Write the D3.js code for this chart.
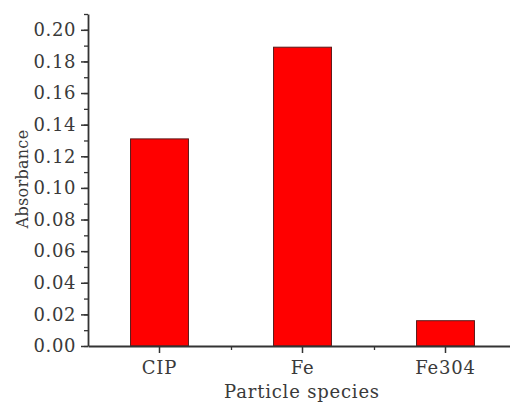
<!DOCTYPE html>
<html>
<head>
<meta charset="utf-8">
<script src="https://cdn.jsdelivr.net/npm/d3@7"></script>
<style>
  body { margin: 0; background: #fff; }
  .axis text { font-family: "DejaVu Serif", serif; fill: #3a3a3a; }
</style>
</head>
<body>
<svg id="chart" width="510" height="403"></svg>
<script>
var categories = ["CIP", "Fe", "Fe304"];
var absorbance = [0.131, 0.189, 0.016];
var yTicks = [0, 0.02, 0.04, 0.06, 0.08, 0.10, 0.12, 0.14, 0.16, 0.18, 0.20];

var svg = d3.select("#chart");

var x0 = 88, x1 = 517, yBottom = 346, yTop = 14;

var x = d3.scaleBand().domain(categories).range([x0, x1]).padding(0);
var y = d3.scaleLinear().domain([0, 0.21]).range([yBottom, yTop]);

// bars
var barW = x.bandwidth() * 0.405;
svg.selectAll("rect.bar")
  .data(categories)
  .enter().append("rect")
  .attr("class", "bar")
  .attr("x", function(d) { return x(d) + (x.bandwidth() - barW) / 2; })
  .attr("y", function(d, i) { return y(absorbance[i]); })
  .attr("width", barW)
  .attr("height", function(d, i) { return yBottom - y(absorbance[i]); })
  .attr("fill", "#ff0000")
  .attr("stroke", "#5a1a1a")
  .attr("stroke-width", 1);

// y minor ticks
var minor = d3.range(0, 22).map(function(i) { return i / 100; });
svg.append("g")
  .attr("class", "axis")
  .attr("transform", "translate(" + x0 + ",0)")
  .call(d3.axisLeft(y).tickValues(minor).tickSize(4).tickFormat(""))
  .call(function(g) { g.select(".domain").remove(); })
  .selectAll("line").attr("stroke", "#333").attr("stroke-width", 1.3);

// y major axis
var yAxis = svg.append("g")
  .attr("class", "axis")
  .attr("transform", "translate(" + x0 + ",0)")
  .call(d3.axisLeft(y).tickValues(yTicks).tickSize(7).tickSizeOuter(0).tickPadding(5)
    .tickFormat(d3.format(".2f")));
yAxis.select(".domain").attr("stroke", "#333").attr("stroke-width", 1.8);
yAxis.selectAll(".tick line").attr("stroke", "#333").attr("stroke-width", 1.5);
yAxis.selectAll("text").style("font-size", "18px").style("letter-spacing", "0.6px");

// x minor ticks at category boundaries
var xb = d3.scaleLinear().domain([0, categories.length]).range([x0, x1]);
svg.append("g")
  .attr("class", "axis")
  .attr("transform", "translate(0," + yBottom + ")")
  .call(d3.axisBottom(xb).tickValues([1, 2]).tickSize(4).tickFormat(""))
  .call(function(g) { g.select(".domain").remove(); })
  .selectAll("line").attr("stroke", "#333").attr("stroke-width", 1.3);

// x axis
var xAxis = svg.append("g")
  .attr("class", "axis")
  .attr("transform", "translate(0," + yBottom + ")")
  .call(d3.axisBottom(x).tickSize(7).tickSizeOuter(0).tickPadding(8));
xAxis.select(".domain").attr("stroke", "#333").attr("stroke-width", 1.8);
xAxis.selectAll(".tick line").attr("stroke", "#333").attr("stroke-width", 1.5);
xAxis.selectAll("text").style("font-size", "18px").style("letter-spacing", "0.8px");

// axis titles
svg.append("text")
  .attr("x", 302)
  .attr("y", 398)
  .attr("text-anchor", "middle")
  .style("font-family", "DejaVu Serif, serif")
  .style("font-size", "18px")
  .style("letter-spacing", "0.8px")
  .style("fill", "#3a3a3a")
  .text("Particle species");

svg.append("text")
  .attr("transform", "translate(28,179) rotate(-90)")
  .attr("text-anchor", "middle")
  .style("font-family", "DejaVu Serif, serif")
  .style("font-size", "16px")
  .style("letter-spacing", "0.3px")
  .style("fill", "#3a3a3a")
  .text("Absorbance");
</script>
</body>
</html>
